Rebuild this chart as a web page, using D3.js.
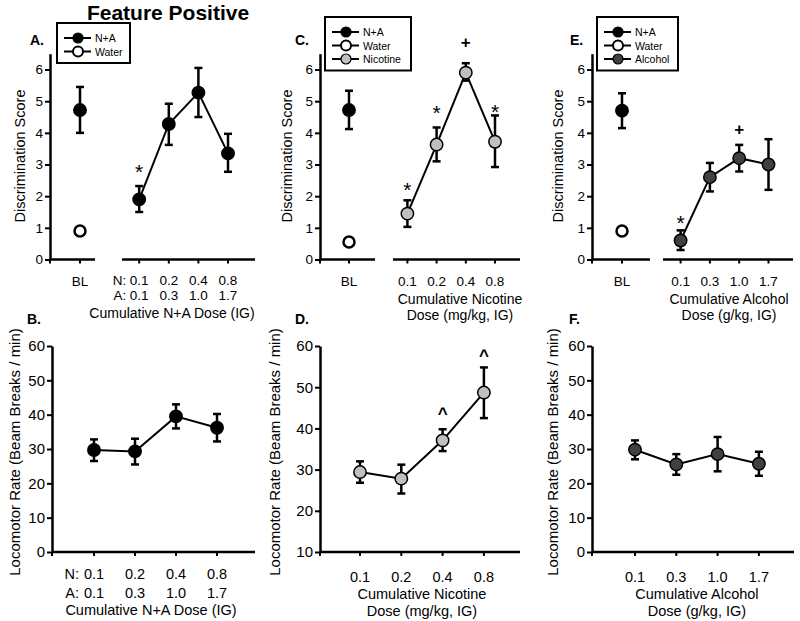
<!DOCTYPE html>
<html>
<head>
<meta charset="utf-8">
<script src="https://cdn.jsdelivr.net/npm/d3@7/dist/d3.min.js"></script>
<style>
  body { margin: 0; background: #fff; }
  text { font-family: Arial, "Liberation Sans", sans-serif; fill: #000; }
</style>
</head>
<body>
<svg id="chart" width="800" height="621"></svg>
<script>
// ---- data ----
// doses
const naNicDoses = ["0.1", "0.2", "0.4", "0.8"];
const naAlcDoses = ["0.1", "0.3", "1.0", "1.7"];
const nicDoses = ["0.1", "0.2", "0.4", "0.8"];
const alcDoses = ["0.1", "0.3", "1.0", "1.7"];

// discrimination score, baseline (panels A, C, E)
const blNA = [4.72, 4.72, 4.70];
const blNALo = [4.0, 4.12, 4.15];
const blNAHi = [5.45, 5.33, 5.25];
const blWater = [0.9, 0.55, 0.9];

// discrimination score, dose curves
const discNA = [1.9, 4.28, 5.27, 3.35];
const discNALo = [1.5, 3.62, 4.5, 2.77];
const discNAHi = [2.32, 4.92, 6.05, 3.97];
const discNic = [1.45, 3.63, 5.9, 3.72];
const discNicLo = [1.03, 3.1, 5.65, 2.92];
const discNicHi = [1.87, 4.17, 6.2, 4.55];
const discAlc = [0.6, 2.6, 3.2, 3.0];
const discAlcLo = [0.3, 2.15, 2.78, 2.2];
const discAlcHi = [0.92, 3.05, 3.62, 3.8];

// significance marks and the level they sit at
const sigNA = ["*", "", "", ""];
const sigNAAt = [2.92, 0, 0, 0];
const sigNic = ["*", "*", "+", "*"];
const sigNicAt = [2.35, 4.8, 6.85, 4.83];
const sigAlc = ["*", "", "+", ""];
const sigAlcAt = [1.3, 0, 4.1, 0];

// locomotor rate
const locoNA = [29.7, 29.3, 39.5, 36.2];
const locoNALo = [26.5, 25.5, 36.0, 32.2];
const locoNAHi = [32.8, 33.0, 43.0, 40.2];
const locoNic = [29.4, 27.8, 37.1, 48.7];
const locoNicLo = [26.8, 24.2, 34.5, 42.5];
const locoNicHi = [32.0, 31.2, 39.8, 54.8];
const locoAlc = [29.8, 25.5, 28.5, 25.7];
const locoAlcLo = [27.0, 22.5, 23.5, 22.2];
const locoAlcHi = [32.5, 28.5, 33.5, 29.2];
const sigLocoNic = ["", "", "^", "^"];
const sigLocoNicAt = [0, 0, 44.5, 58.5];

const discTicks = [0, 1, 2, 3, 4, 5, 6];
const locoTicks = [0, 10, 20, 30, 40, 50, 60];
const locoTicksD = [10, 20, 30, 40, 50, 60];

const colNA = "#000", colWater = "#fff", colNic = "#c0c0c0", colAlc = "#404040";

const svg = d3.select("#chart");

svg.append("text").attr("x", 168).attr("y", 20).attr("text-anchor", "middle")
  .style("font-size", "21px").style("font-weight", "bold").text("Feature Positive");

function sigDy(c) { return c === "*" ? 12 : c === "+" ? 5 : 9; }

function drawSeries(g, x, y, vals, lo, hi, fill, line) {
  const idx = d3.range(vals.length);
  if (line) {
    g.append("path").datum(idx)
      .attr("fill", "none").attr("stroke", "#000").attr("stroke-width", 2)
      .attr("d", d3.line().x(i => x(i)).y(i => y(vals[i])));
  }
  const eb = g.selectAll(null).data(idx).enter().append("g");
  eb.append("line").attr("x1", i => x(i)).attr("x2", i => x(i))
    .attr("y1", i => y(lo[i])).attr("y2", i => y(hi[i]))
    .attr("stroke", "#000").attr("stroke-width", 2.5);
  [lo, hi].forEach(arr => {
    eb.append("line").attr("x1", i => x(i) - 4).attr("x2", i => x(i) + 4)
      .attr("y1", i => y(arr[i])).attr("y2", i => y(arr[i]))
      .attr("stroke", "#000").attr("stroke-width", 2.5);
  });
  eb.append("circle").attr("cx", i => x(i)).attr("cy", i => y(vals[i]))
    .attr("r", 6.2).attr("fill", fill).attr("stroke", "#000").attr("stroke-width", 1.5);
}

function drawSig(g, x, y, marks, at) {
  const idx = d3.range(marks.length).filter(i => marks[i]);
  g.selectAll(null).data(idx).enter().append("text")
    .attr("x", i => x(i)).attr("y", i => y(at[i]) + sigDy(marks[i]))
    .attr("text-anchor", "middle")
    .style("font-size", i => marks[i] === "*" ? "21px" : "17px")
    .style("font-weight", i => marks[i] === "*" ? "normal" : "bold")
    .text(i => marks[i]);
}

function yAxis(g, y, ticks, size, ax) {
  const a = g.append("g").attr("transform", `translate(${ax},0)`)
    .call(d3.axisLeft(y).tickValues(ticks).tickFormat(d3.format("d"))
      .tickSize(5).tickPadding(2).tickSizeOuter(0));
  a.select(".domain").attr("stroke-width", 2.5);
  a.selectAll(".tick line").attr("stroke-width", 2);
  a.selectAll(".tick text").style("font-size", size)
    .style("font-family", "Arial, 'Liberation Sans', sans-serif");
}

// ---- top row: discrimination score ----
const topPanels = [
  { label: "A.", lx: 30, ax: 50, ylx: 25, bl: 80, step: 29.6, segs: [[50, 95], [122, 255]],
    vals: discNA, lo: discNALo, hi: discNAHi, fill: colNA, sig: sigNA, sigAt: sigNAAt,
    legend: { x: 57, y: 23, w: 73, rows: [["N+A", colNA], ["Water", colWater]] } },
  { label: "C.", lx: 295, ax: 320, ylx: 292, bl: 349, step: 29.2, segs: [[320, 375], [393, 520]],
    xlc: 460, vals: discNic, lo: discNicLo, hi: discNicHi, fill: colNic, sig: sigNic, sigAt: sigNicAt,
    legend: { x: 325, y: 17, w: 86, rows: [["N+A", colNA], ["Water", colWater], ["Nicotine", colNic]] } },
  { label: "E.", lx: 570, ax: 592, ylx: 563, bl: 622, step: 29.3, segs: [[592, 650], [663, 793]],
    xlc: 729, vals: discAlc, lo: discAlcLo, hi: discAlcHi, fill: colAlc, sig: sigAlc, sigAt: sigAlcAt,
    legend: { x: 597, y: 17, w: 81, rows: [["N+A", colNA], ["Water", colWater], ["Alcohol", colAlc]] } }
];

const yTop = d3.scaleLinear().domain([0, 6.5]).range([259.5, 53.7]);

topPanels.forEach((p, k) => {
  const g = svg.append("g");
  // slot 0 = BL, slots 2..5 = doses
  const xs = d3.scaleLinear().domain([0, 5]).range([p.bl, p.bl + 5 * p.step]);
  const xd = i => xs(i + 2);

  yAxis(g, yTop, discTicks, "13.5px", p.ax);

  // broken x axis
  p.segs.forEach(s => {
    g.append("line").attr("x1", s[0]).attr("x2", s[1]).attr("y1", yTop(0)).attr("y2", yTop(0))
      .attr("stroke", "#000").attr("stroke-width", 2.5);
  });
  const tickX = [p.ax, xs(0)].concat(d3.range(4).map(xd));
  g.selectAll(null).data(tickX).enter().append("line")
    .attr("x1", d => d).attr("x2", d => d).attr("y1", yTop(0)).attr("y2", yTop(0) + 4)
    .attr("stroke", "#000").attr("stroke-width", 2);

  g.append("text").attr("x", xs(0)).attr("y", 286).attr("text-anchor", "middle")
    .style("font-size", "13.5px").text("BL");

  // baseline points
  drawSeries(g, () => xs(0), yTop, [blNA[k]], [blNALo[k]], [blNAHi[k]], colNA, false);
  g.append("circle").attr("cx", xs(0)).attr("cy", yTop(blWater[k])).attr("r", 5.5)
    .attr("fill", colWater).attr("stroke", "#000").attr("stroke-width", 2.5);

  // dose curve
  drawSeries(g, xd, yTop, p.vals, p.lo, p.hi, p.fill, true);
  drawSig(g, xd, yTop, p.sig, p.sigAt);

  g.append("text").attr("x", p.lx).attr("y", 45).style("font-size", "14px")
    .style("font-weight", "bold").text(p.label);

  // legend
  const L = p.legend;
  const lg = g.append("g").attr("transform", `translate(${L.x},${L.y})`);
  lg.append("rect").attr("width", L.w).attr("height", 15 + L.rows.length * 13.5 - 2)
    .attr("fill", "#fff").attr("stroke", "#000").attr("stroke-width", 2);
  const row = lg.selectAll(null).data(L.rows).enter().append("g")
    .attr("transform", (d, i) => `translate(0,${15 + i * 13.5})`);
  row.append("line").attr("x1", 7).attr("x2", 34).attr("stroke", "#000").attr("stroke-width", 2);
  row.append("circle").attr("cx", 21).attr("r", 5).attr("fill", d => d[1])
    .attr("stroke", "#000").attr("stroke-width", d => d[1] === colWater ? 2 : 1.2);
  row.append("text").attr("x", 38).attr("y", 4).style("font-size", "10.5px").text(d => d[0]);

  g.append("text").attr("transform", `translate(${p.ylx},156) rotate(-90)`)
    .attr("text-anchor", "middle").style("font-size", "14.5px").text("Discrimination Score");

  // dose labels
  if (k === 0) {
    g.selectAll(null).data(naNicDoses).enter().append("text")
      .attr("x", (d, i) => xd(i)).attr("y", 285).attr("text-anchor", "middle")
      .style("font-size", "13.5px").text(d => d);
    g.selectAll(null).data(naAlcDoses).enter().append("text")
      .attr("x", (d, i) => xd(i)).attr("y", 300).attr("text-anchor", "middle")
      .style("font-size", "13.5px").text(d => d);
    g.append("text").attr("x", xd(0) - 13).attr("y", 285).attr("text-anchor", "end")
      .style("font-size", "13.5px").text("N:");
    g.append("text").attr("x", xd(0) - 13).attr("y", 300).attr("text-anchor", "end")
      .style("font-size", "13.5px").text("A:");
    g.append("text").attr("x", 172).attr("y", 318).attr("text-anchor", "middle")
      .style("font-size", "14px").text("Cumulative N+A Dose (IG)");
  } else {
    const labs = k === 1 ? nicDoses : alcDoses;
    g.selectAll(null).data(labs).enter().append("text")
      .attr("x", (d, i) => xd(i)).attr("y", 286).attr("text-anchor", "middle")
      .style("font-size", "13.5px").text(d => d);
    g.append("text").attr("x", p.xlc).attr("y", 304).attr("text-anchor", "middle")
      .style("font-size", "14px").text(k === 1 ? "Cumulative Nicotine" : "Cumulative Alcohol");
    g.append("text").attr("x", p.xlc).attr("y", 320).attr("text-anchor", "middle")
      .style("font-size", "14px").text(k === 1 ? "Dose (mg/kg, IG)" : "Dose (g/kg, IG)");
  }
});

// ---- bottom row: locomotor rate ----
const botPanels = [
  { label: "B.", lx: 27, ax: 52, ylx: 20, x0: 94, step: 41, end: 255, domain: [0, 60], ticks: locoTicks,
    vals: locoNA, lo: locoNALo, hi: locoNAHi, fill: colNA, sig: null },
  { label: "D.", lx: 295, ax: 320, ylx: 280, x0: 360, step: 41.3, end: 520, domain: [10, 60], ticks: locoTicksD,
    vals: locoNic, lo: locoNicLo, hi: locoNicHi, fill: colNic, sig: sigLocoNic, sigAt: sigLocoNicAt },
  { label: "F.", lx: 569, ax: 592, ylx: 558, x0: 635, step: 41.3, end: 794, domain: [0, 60], ticks: locoTicks,
    vals: locoAlc, lo: locoAlcLo, hi: locoAlcHi, fill: colAlc, sig: null }
];

botPanels.forEach((p, k) => {
  const g = svg.append("g");
  const y = d3.scaleLinear().domain(p.domain).range([552, 346]);
  const x = d3.scaleLinear().domain([0, 3]).range([p.x0, p.x0 + 3 * p.step]);

  yAxis(g, y, p.ticks, "15px", p.ax);
  g.append("line").attr("x1", p.ax).attr("x2", p.end).attr("y1", 552).attr("y2", 552)
    .attr("stroke", "#000").attr("stroke-width", 2.5);
  const tickX = [p.ax].concat(d3.range(4).map(x));
  g.selectAll(null).data(tickX).enter().append("line")
    .attr("x1", d => d).attr("x2", d => d).attr("y1", 552).attr("y2", 556)
    .attr("stroke", "#000").attr("stroke-width", 2);

  drawSeries(g, x, y, p.vals, p.lo, p.hi, p.fill, true);
  if (p.sig) drawSig(g, x, y, p.sig, p.sigAt);

  g.append("text").attr("x", p.lx).attr("y", 324).style("font-size", "14px")
    .style("font-weight", "bold").text(p.label);

  g.append("text").attr("transform", `translate(${p.ylx},452) rotate(-90)`)
    .attr("text-anchor", "middle").style("font-size", "15px")
    .text("Locomotor Rate (Beam Breaks / min)");

  if (k === 0) {
    g.selectAll(null).data(naNicDoses).enter().append("text")
      .attr("x", (d, i) => x(i)).attr("y", 579).attr("text-anchor", "middle")
      .style("font-size", "14.5px").text(d => d);
    g.selectAll(null).data(naAlcDoses).enter().append("text")
      .attr("x", (d, i) => x(i)).attr("y", 598).attr("text-anchor", "middle")
      .style("font-size", "14.5px").text(d => d);
    g.append("text").attr("x", x(0) - 15).attr("y", 579).attr("text-anchor", "end")
      .style("font-size", "14.5px").text("N:");
    g.append("text").attr("x", x(0) - 15).attr("y", 598).attr("text-anchor", "end")
      .style("font-size", "14.5px").text("A:");
    g.append("text").attr("x", 151).attr("y", 615).attr("text-anchor", "middle")
      .style("font-size", "14.5px").text("Cumulative N+A Dose (IG)");
  } else {
    const labs = k === 1 ? nicDoses : alcDoses;
    g.selectAll(null).data(labs).enter().append("text")
      .attr("x", (d, i) => x(i)).attr("y", 582).attr("text-anchor", "middle")
      .style("font-size", "14.5px").text(d => d);
    const cx = (x(0) + x(3)) / 2;
    g.append("text").attr("x", cx).attr("y", 599).attr("text-anchor", "middle")
      .style("font-size", "14.5px").text(k === 1 ? "Cumulative Nicotine" : "Cumulative Alcohol");
    g.append("text").attr("x", cx).attr("y", 616).attr("text-anchor", "middle")
      .style("font-size", "14.5px").text(k === 1 ? "Dose (mg/kg, IG)" : "Dose (g/kg, IG)");
  }
});
</script>
</body>
</html>
